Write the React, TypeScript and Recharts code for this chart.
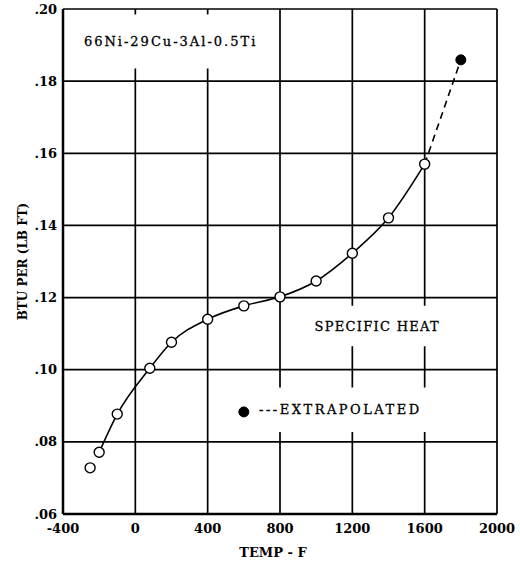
import { ComposedChart, Line, Scatter, XAxis, YAxis, CartesianGrid, ReferenceArea } from 'recharts';

const xTicks = [-400, 0, 400, 800, 1200, 1600, 2000];
const yTicks = [0.06, 0.08, 0.1, 0.12, 0.14, 0.16, 0.18, 0.2];

// measured points, TEMP - F vs BTU per (LB F)
const temps = [-250, -200, -100, 80, 200, 400, 600, 800, 1000, 1200, 1400, 1600];
const heats = [0.0728, 0.0771, 0.0877, 0.1004, 0.1076, 0.114, 0.1177, 0.1202, 0.1246, 0.1323, 0.1421, 0.157];

const extraTemps = [1600, 1800];
const extraHeats = [0.157, 0.1859];

const legendTemp = 600;
const legendHeat = 0.0883;

const measured = temps.map((t, i) => ({ t, c: heats[i] }));
const curve = measured.slice(1);
const extrapolated = extraTemps.map((t, i) => ({ t, c: extraHeats[i] }));
const legendDot = [{ t: legendTemp, c: legendHeat }];

const font = 'DejaVu Serif';
const fmtY = (v: number) => v.toFixed(2).replace(/^0/, '');

const OpenDot = (p: any) => <circle cx={p.cx} cy={p.cy} r={5} fill="#fff" stroke="#000" strokeWidth={1.4} />;
const FilledDot = (p: any) => <circle cx={p.cx} cy={p.cy} r={5} fill="#000" stroke="#000" />;

const inner = { fill: '#000', stroke: '#000', strokeWidth: 0.3, fontFamily: font, fontSize: 13 };

export default function App() {
  return (
    <div style={{ position: 'absolute', left: 0, top: 0, background: '#fff' }}>
      <ComposedChart width={520} height={564} margin={{ top: 9, right: 23, bottom: 0, left: 0 }}>
        <CartesianGrid stroke="#000" strokeWidth={1.7} horizontalValues={yTicks} verticalValues={xTicks} />
        <XAxis
          type="number"
          dataKey="t"
          domain={[-400, 2000]}
          ticks={xTicks}
          height={50}
          tickLine={false}
          tickMargin={4}
          axisLine={{ stroke: '#000', strokeWidth: 2.5 }}
          tick={{ fill: '#000', fontFamily: font, fontSize: 13, fontWeight: 'bold' }}
          label={{ value: 'TEMP - F', position: 'insideBottom', offset: 7, dx: -7, fill: '#000', fontFamily: font, fontSize: 13, fontWeight: 'bold' }}
        />
        <YAxis
          type="number"
          dataKey="c"
          domain={[0.06, 0.2]}
          ticks={yTicks}
          width={63}
          tickLine={false}
          tickSize={4}
          tickMargin={2}
          tickFormatter={fmtY}
          axisLine={{ stroke: '#000', strokeWidth: 2.5 }}
          tick={{ fill: '#000', fontFamily: font, fontSize: 13, fontWeight: 'bold' }}
          label={{ value: 'BTU PER (LB FT)', angle: -90, position: 'center', dx: -9, fill: '#000', fontFamily: font, fontSize: 12, fontWeight: 'bold' }}
        />
        <ReferenceArea
          x1={-380}
          x2={770}
          y1={0.1835}
          y2={0.1985}
          fill="#fff"
          fillOpacity={1}
          stroke="none"
          label={{ value: '66Ni-29Cu-3Al-0.5Ti', position: 'center', letterSpacing: 2, ...inner }}
        />
        <ReferenceArea
          x1={920}
          x2={1756}
          y1={0.1065}
          y2={0.1177}
          fill="#fff"
          fillOpacity={1}
          stroke="none"
          label={{ value: 'SPECIFIC HEAT', position: 'center', letterSpacing: 1.3, ...inner }}
        />
        <ReferenceArea
          x1={640}
          x2={1950}
          y1={0.0827}
          y2={0.0951}
          fill="#fff"
          fillOpacity={1}
          stroke="none"
          label={{ value: '---EXTRAPOLATED', position: 'insideLeft', offset: 8, letterSpacing: 2.5, ...inner }}
        />
        <Line data={curve} dataKey="c" type="monotone" stroke="#000" strokeWidth={1.6} dot={false} isAnimationActive={false} />
        <Line data={extrapolated} dataKey="c" type="linear" stroke="#000" strokeWidth={1.6} strokeDasharray="7 5" dot={false} isAnimationActive={false} />
        <Scatter data={measured} dataKey="c" shape={OpenDot} isAnimationActive={false} />
        <Scatter data={extrapolated.slice(1)} dataKey="c" shape={FilledDot} isAnimationActive={false} />
        <Scatter data={legendDot} dataKey="c" shape={FilledDot} isAnimationActive={false} />
      </ComposedChart>
    </div>
  );
}
